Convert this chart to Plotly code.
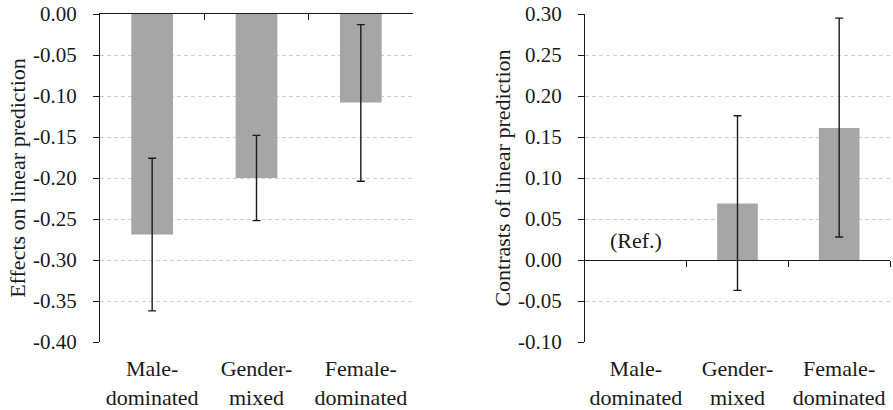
import plotly.graph_objects as go

categories = ["Male-<br>dominated", "Gender-<br>mixed", "Female-<br>dominated"]

# Left panel: effects on linear prediction
effects = [-0.269, -0.200, -0.108]
effects_ci_low = [-0.362, -0.252, -0.204]
effects_ci_high = [-0.176, -0.148, -0.013]

# Right panel: contrasts of linear prediction (Male-dominated = reference, no estimate)
contrasts = [None, 0.069, 0.161]
contrasts_ci_low = [None, -0.037, 0.028]
contrasts_ci_high = [None, 0.176, 0.295]
ref_label = "(Ref.)"

left_ticks = [0.0, -0.05, -0.10, -0.15, -0.20, -0.25, -0.30, -0.35, -0.40]
left_ticktext = ["0.00", "-0.05", "-0.10", "-0.15", "-0.20", "-0.25", "-0.30", "-0.35", "-0.40"]
right_ticks = [0.30, 0.25, 0.20, 0.15, 0.10, 0.05, 0.0, -0.05, -0.10]
right_ticktext = ["0.30", "0.25", "0.20", "0.15", "0.10", "0.05", "0.00", "-0.05", "-0.10"]
left_range = [-0.40, 0.0]
right_range = [-0.10, 0.30]
boundaries = [0.5, 1.5, 2.5]

FONT = "Liberation Serif"
TXT = "#1a1a1a"
BAR = "#a6a6a6"
GRID = "#cfcfcf"


def err(vals, lo, hi):
    plus, minus = [], []
    for v, l, h in zip(vals, lo, hi):
        if l is None or v is None:
            plus.append(None)
            minus.append(None)
        else:
            plus.append(h - v)
            minus.append(v - l)
    return plus, minus


lp, lm = err(effects, effects_ci_low, effects_ci_high)
rp, rm = err(contrasts, contrasts_ci_low, contrasts_ci_high)

errstyle = dict(type="data", symmetric=False, color="#1a1a1a", thickness=1.4, width=4)

fig = go.Figure()
fig.add_trace(go.Bar(x=categories, y=effects, marker_color=BAR, marker_line_width=0,
                     error_y=dict(array=lp, arrayminus=lm, **errstyle),
                     xaxis="x", yaxis="y", showlegend=False))
fig.add_trace(go.Bar(x=categories, y=contrasts, marker_color=BAR, marker_line_width=0,
                     error_y=dict(array=rp, arrayminus=rm, **errstyle),
                     xaxis="x2", yaxis="y2", showlegend=False))
# empty traces to carry decorative axes
fig.add_trace(go.Scatter(x=[], y=[], xaxis="x3", yaxis="y", showlegend=False))
fig.add_trace(go.Scatter(x=[], y=[], xaxis="x4", yaxis="y2", showlegend=False))

ydom = [1 - 342 / 410, 1 - 14 / 410]
ldom = [100 / 893, 413 / 893]
rdom = [585 / 893, 890 / 893]

zero_pos = ydom[0] + (0 - right_range[0]) / (right_range[1] - right_range[0]) * (ydom[1] - ydom[0])

tickfont = dict(family=FONT, size=21, color=TXT)
catfont = dict(family=FONT, size=22, color=TXT)
titlefont = dict(family=FONT, size=22, color=TXT)

yax_common = dict(
    domain=ydom, showline=True, linecolor="#1a1a1a", linewidth=1.3,
    ticks="outside", ticklen=6, tickcolor="#1a1a1a", tickwidth=1.3,
    showgrid=True, gridcolor=GRID, griddash="4px,3px", gridwidth=1,
    tickfont=tickfont, automargin=False, zeroline=False, ticklabelstandoff=12,
)

xcat_common = dict(showline=False, ticks="", showgrid=False, tickfont=catfont,
                   automargin=False, zeroline=False, ticklabelstandoff=11)

fig.update_layout(
    width=893, height=410,
    margin=dict(l=0, r=0, t=0, b=0),
    paper_bgcolor="white", plot_bgcolor="white",
    bargap=0.6,
    font=dict(family=FONT, color=TXT),
    xaxis=dict(domain=ldom, anchor="y", **xcat_common),
    xaxis2=dict(domain=rdom, anchor="y2", **xcat_common),
    xaxis3=dict(overlaying="x", anchor="y", side="top", type="linear", range=[-0.5, 2.5],
                tickvals=boundaries, ticks="inside", ticklen=6, tickcolor="#1a1a1a", tickwidth=1.3,
                showline=True, linecolor="#1a1a1a", linewidth=1.3,
                showticklabels=False, showgrid=False, zeroline=False),
    xaxis4=dict(overlaying="x2", anchor="free", position=zero_pos, side="bottom", type="linear",
                range=[-0.5, 2.5],
                tickvals=boundaries, ticks="outside", ticklen=6, tickcolor="#1a1a1a", tickwidth=1.3,
                showline=True, linecolor="#1a1a1a", linewidth=1.3,
                showticklabels=False, showgrid=False, zeroline=False),
    yaxis=dict(anchor="x", range=left_range, tickvals=left_ticks, ticktext=left_ticktext,
               title=dict(text="Effects on linear prediction", font=titlefont, standoff=1),
               **yax_common),
    yaxis2=dict(anchor="x2", range=right_range, tickvals=right_ticks, ticktext=right_ticktext,
                title=dict(text="Contrasts of linear prediction", font=titlefont, standoff=1),
                **yax_common),
)

fig.add_annotation(x=categories[0], y=0.024, xref="x2", yref="y2", text=ref_label,
                   showarrow=False, font=dict(family=FONT, size=22, color=TXT))

fig.write_html("out.html", config={"displayModeBar": False},
               post_script="document.body.style.margin='0';")
